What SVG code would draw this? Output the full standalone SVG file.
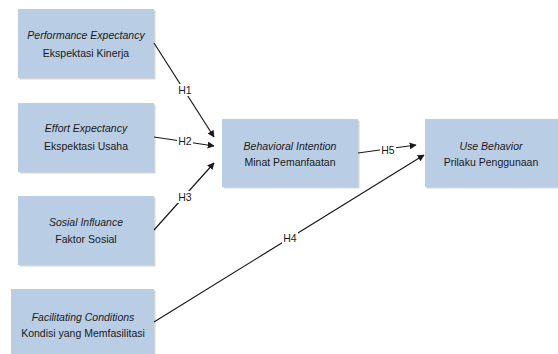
<svg xmlns="http://www.w3.org/2000/svg" width="558" height="354" viewBox="0 0 558 354">
<style>
.box{fill:#B9CDE5;}
.sh{fill:#d4d4d4;}
.t{font-family:"Liberation Sans",Arial,sans-serif;font-size:10.5px;fill:#1a1a1a;text-anchor:middle;}
.i{font-style:italic;}
.c{stroke:#1a1a1a;stroke-width:1.2;fill:none;}
.lb{font-family:"Liberation Sans",Arial,sans-serif;font-size:10.5px;fill:#1a1a1a;text-anchor:middle;}
.bg{fill:#fff;}
</style>
<defs>
<marker id="ar" viewBox="0 0 10 10" refX="9" refY="5" markerWidth="7" markerHeight="7" orient="auto" markerUnits="userSpaceOnUse">
<path d="M0,0 L10,5 L0,10 z" fill="#1a1a1a"/>
</marker>
</defs>
<rect width="558" height="354" fill="#fff"/>
<g id="n1">
<rect class="sh" x="19.5" y="10.5" width="136" height="69"/>
<rect class="box" x="18" y="9" width="136" height="69"/>
<text class="t i" x="86" y="39">Performance Expectancy</text>
<text class="t" x="86" y="57">Ekspektasi Kinerja</text>
</g>
<g id="n2">
<rect class="sh" x="19.5" y="104.5" width="136" height="69"/>
<rect class="box" x="18" y="103" width="136" height="69"/>
<text class="t i" x="86" y="132">Effort Expectancy</text>
<text class="t" x="86" y="150">Ekspektasi Usaha</text>
</g>
<g id="n3">
<rect class="sh" x="19.5" y="197.5" width="136" height="69"/>
<rect class="box" x="18" y="196" width="136" height="69"/>
<text class="t i" x="86" y="226">Sosial Influance</text>
<text class="t" x="86" y="243">Faktor Sosial</text>
</g>
<g id="n4">
<rect class="sh" x="12.5" y="290.5" width="143" height="70"/>
<rect class="box" x="11" y="289" width="143" height="70"/>
<text class="t i" x="83" y="321">Facilitating Conditions</text>
<text class="t" x="83" y="337">Kondisi yang Memfasilitasi</text>
</g>
<g id="n5">
<rect class="sh" x="223.5" y="120.5" width="136" height="68"/>
<rect class="box" x="222" y="119" width="136" height="68"/>
<text class="t i" x="290" y="150">Behavioral Intention</text>
<text class="t" x="290" y="166">Minat Pemanfaatan</text>
</g>
<g id="n6">
<rect class="sh" x="426.5" y="120.5" width="133" height="68"/>
<rect class="box" x="425" y="119" width="133" height="68"/>
<text class="t i" x="491" y="150">Use Behavior</text>
<text class="t" x="491" y="166">Prilaku Penggunaan</text>
</g>
<g id="connectors">
<line class="c" x1="154" y1="43" x2="214" y2="137" marker-end="url(#ar)"/>
<line class="c" x1="154" y1="137" x2="214" y2="146" marker-end="url(#ar)"/>
<line class="c" x1="154" y1="230" x2="214" y2="163" marker-end="url(#ar)"/>
<line class="c" x1="154" y1="322" x2="424" y2="155" marker-end="url(#ar)"/>
<line class="c" x1="358" y1="153" x2="416" y2="145" marker-end="url(#ar)"/>
<rect class="bg" x="177" y="84" width="16" height="12"/>
<text class="lb" x="185" y="94">H1</text>
<rect class="bg" x="177" y="136" width="16" height="11"/>
<text class="lb" x="185" y="145">H2</text>
<rect class="bg" x="177" y="191" width="16" height="12"/>
<text class="lb" x="185" y="201">H3</text>
<rect class="bg" x="282" y="232" width="16" height="12"/>
<text class="lb" x="290" y="242">H4</text>
<rect class="bg" x="380" y="145" width="16" height="11"/>
<text class="lb" x="388" y="154">H5</text>
</g>
</svg>
